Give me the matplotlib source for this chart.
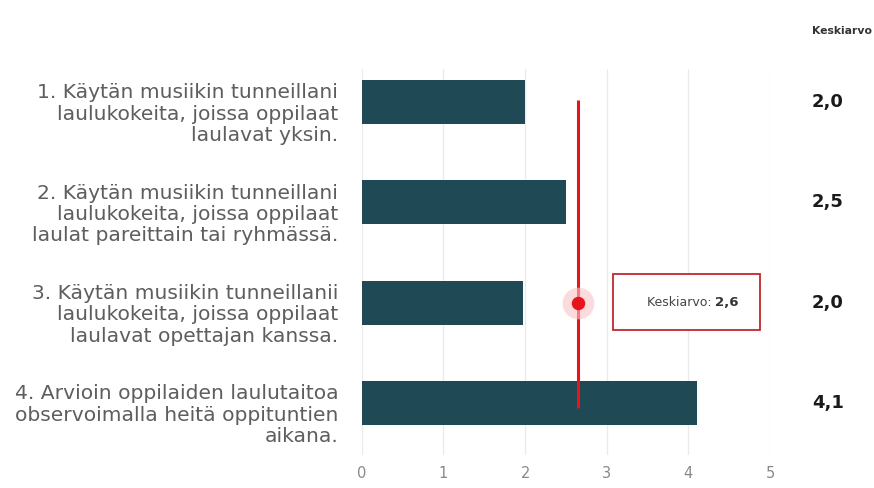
import matplotlib.pyplot as plt
import matplotlib.transforms as mtransforms
from matplotlib.patches import Rectangle

labels = [
    "1. Käytän musiikin tunneillani\nlaulukokeita, joissa oppilaat\nlaulavat yksin.",
    "2. Käytän musiikin tunneillani\nlaulukokeita, joissa oppilaat\nlaulat pareittain tai ryhmässä.",
    "3. Käytän musiikin tunneillanii\nlaulukokeita, joissa oppilaat\nlaulavat opettajan kanssa.",
    "4. Arvioin oppilaiden laulutaitoa\nobservoimalla heitä oppituntien\naikana.",
]
values = [2.0, 2.5, 1.97, 4.1]
shown = ["2,0", "2,5", "2,0", "4,1"]
mean_value = 2.65
mean_label = "2,6"
mean_row = 2
ticks = [0, 1, 2, 3, 4, 5]

plt.rcParams["font.family"] = ["DejaVu Sans"]

fig = plt.figure(figsize=(8.74, 4.88), dpi=100)
ax = fig.add_axes([0.414, 0.068, 0.467, 0.79])

ypos = list(range(len(values)))
ax.barh(ypos, values, height=0.44, color="#1f4955", zorder=2)

ax.set_xlim(0, 5)
ax.set_ylim(3.516, -0.326)
ax.set_xticks(ticks)
ax.set_xticklabels([str(t) for t in ticks], color="#888888", fontsize=10.5)
ax.set_yticks(ypos)
ax.set_yticklabels(labels, color="#5e5e5e", fontsize=14.6, linespacing=1.16,
                   ha="right")
ax.tick_params(axis="y", length=0, pad=17)
ax.tick_params(axis="x", length=0, pad=8)
ax.grid(axis="x", color="#ebebeb", linewidth=1, zorder=0)
for s in ax.spines.values():
    s.set_visible(False)

# labels sit a little lower than the bars
shift = mtransforms.ScaledTranslation(0, -9 / 100, fig.dpi_scale_trans)
for lab in ax.get_yticklabels():
    lab.set_transform(lab.get_transform() + shift)

# mean line and marker
ax.vlines(mean_value, -0.02, 3.05, color="#e8141b", linewidth=2.2, zorder=3)
ax.scatter([mean_value], [mean_row], s=520, color="#fbc3c5", alpha=0.6,
           zorder=4, linewidths=0)
ax.scatter([mean_value], [mean_row], s=75, color="#e8141b", zorder=5)

# tooltip box
ax.add_patch(Rectangle((3.08, 1.71), 1.8, 0.56, fc="white", ec="#c0272d",
                       lw=1.3, zorder=6))
ax.text(4.33, mean_row, "Keskiarvo: ", fontsize=9, color="#444444",
        ha="right", va="center", zorder=7)
ax.text(4.33, mean_row, mean_label, fontsize=9.5, fontweight="bold",
        color="#333333", ha="left", va="center", zorder=7)

# right column with averages
for y, s in zip(ypos, shown):
    ax.text(5.71, y, s, fontsize=13, fontweight="bold", color="#1a1a1a",
            ha="center", va="center")
fig.text(0.963, 0.937, "Keskiarvo", fontsize=7.8, fontweight="bold",
         color="#333333", ha="center", va="center")

fig.savefig("out.png", dpi=100)
